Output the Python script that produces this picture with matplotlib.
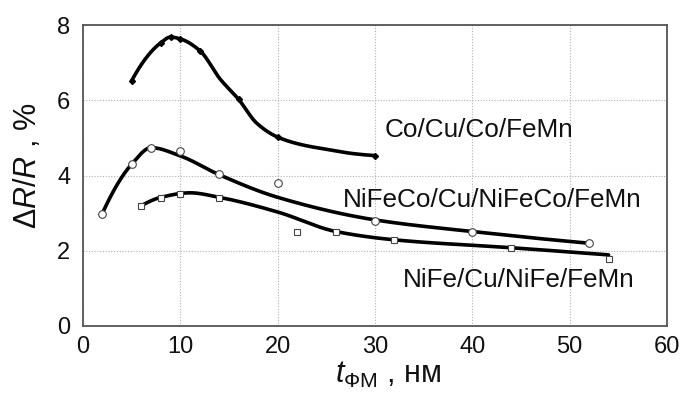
import numpy as np
import matplotlib
matplotlib.use("Agg")
import matplotlib.pyplot as plt

plt.rcParams['font.family'] = ['Liberation Sans', 'DejaVu Sans']
plt.rcParams['mathtext.fontset'] = 'custom'
plt.rcParams['mathtext.rm'] = 'Liberation Sans'
plt.rcParams['mathtext.it'] = 'Liberation Sans:italic'
plt.rcParams['mathtext.bf'] = 'Liberation Sans:bold'

# ---- measured points ----
co_t = [5, 8, 9, 10, 12, 16, 20, 30]
co_r = [6.52, 7.53, 7.68, 7.63, 7.32, 6.03, 5.03, 4.53]

nifeco_t = [2, 5, 7, 10, 14, 20, 30, 40, 52]
nifeco_r = [2.98, 4.31, 4.72, 4.64, 4.03, 3.81, 2.80, 2.51, 2.20]

nife_t = [6, 8, 10, 14, 22, 26, 32, 44, 54]
nife_r = [3.19, 3.41, 3.50, 3.41, 2.49, 2.49, 2.29, 2.08, 1.78]

# ---- trend curves as drawn in the figure ----
co_fit_t = [5, 8, 9, 10, 12, 14.1, 16, 17.85, 20, 22.6, 25.4, 27.8, 30]
co_fit_r = [6.52, 7.53, 7.68, 7.63, 7.32, 6.56, 6.02, 5.39, 5.02, 4.81, 4.68, 4.58, 4.53]
nifeco_fit_t = [2, 5, 7, 10, 14, 20, 30, 40, 52]
nifeco_fit_r = [3.0, 4.3, 4.74, 4.52, 4.02, 3.42, 2.82, 2.51, 2.2]
nife_fit_t = [6, 8, 11, 14, 20, 26, 32, 44, 54]
nife_fit_r = [3.2, 3.42, 3.54, 3.42, 3.03, 2.51, 2.29, 2.08, 1.89]

labels = ["Co/Cu/Co/FeMn", "NiFeCo/Cu/NiFeCo/FeMn", "NiFe/Cu/NiFe/FeMn"]
label_pos = [(31.0, 5.02), (26.7, 3.17), (32.85, 1.03)]

x_ticks = [0, 10, 20, 30, 40, 50, 60]
y_ticks = [0, 2, 4, 6, 8]


def pchip(x, y, n=400):
    x = np.asarray(x, float)
    y = np.asarray(y, float)
    h = np.diff(x)
    d = np.diff(y) / h
    m = np.zeros_like(y)
    for i in range(1, len(x) - 1):
        if d[i - 1] * d[i] > 0:
            w1 = 2 * h[i] + h[i - 1]
            w2 = h[i] + 2 * h[i - 1]
            m[i] = (w1 + w2) / (w1 / d[i - 1] + w2 / d[i])
        else:
            m[i] = 0.0
    m[0] = ((2 * h[0] + h[1]) * d[0] - h[0] * d[1]) / (h[0] + h[1])
    if np.sign(m[0]) != np.sign(d[0]):
        m[0] = 0
    m[-1] = ((2 * h[-1] + h[-2]) * d[-1] - h[-1] * d[-2]) / (h[-1] + h[-2])
    if np.sign(m[-1]) != np.sign(d[-1]):
        m[-1] = 0
    xs = np.linspace(x[0], x[-1], n)
    idx = np.clip(np.searchsorted(x, xs, side='right') - 1, 0, len(x) - 2)
    hh = h[idx]
    t = (xs - x[idx]) / hh
    h00 = 2 * t ** 3 - 3 * t ** 2 + 1
    h10 = t ** 3 - 2 * t ** 2 + t
    h01 = -2 * t ** 3 + 3 * t ** 2
    h11 = t ** 3 - t ** 2
    ys = h00 * y[idx] + h10 * hh * m[idx] + h01 * y[idx + 1] + h11 * hh * m[idx + 1]
    return xs, ys


fig = plt.figure(figsize=(6.84, 3.94), dpi=100)
ax = fig.add_axes([83 / 684, 1 - 326 / 394, (667 - 83) / 684, (326 - 25) / 394])

for ft, fr in [(co_fit_t, co_fit_r), (nifeco_fit_t, nifeco_fit_r), (nife_fit_t, nife_fit_r)]:
    xs, ys = pchip(ft, fr)
    ax.plot(xs, ys, color='black', lw=2.6, solid_capstyle='round', zorder=3)

ax.plot(co_t, co_r, ls='none', marker='D', ms=3, mfc='black', mec='black', zorder=4)
ax.plot(nifeco_t, nifeco_r, ls='none', marker='o', ms=5.5, mfc='white', mec='#444444',
        mew=0.8, zorder=4)
ax.plot(nife_t, nife_r, ls='none', marker='s', ms=5, mfc='white', mec='#444444',
        mew=0.8, zorder=4)

for lab, (lx, ly) in zip(labels, label_pos):
    ax.text(lx, ly, lab, fontsize=18.8, ha='left', va='baseline', color='#111111')

ax.set_xlim(0, 60)
ax.set_ylim(0, 8)
ax.set_xticks(x_ticks)
ax.set_yticks(y_ticks)
ax.tick_params(length=0, labelsize=17, colors='#111111')
ax.tick_params(axis='x', pad=7)
ax.tick_params(axis='y', pad=9)
ax.grid(True, ls=(0, (1, 1.5)), color='#b0b0b0', lw=0.8)
for s in ax.spines.values():
    s.set_color('#555555')
    s.set_linewidth(1.3)

fig.text(388 / 684, 1 - 383 / 394, r'$t_{\mathrm{ФМ}}$ , нм', fontsize=22, ha='center',
         va='baseline', color='#111111')
fig.text(28 / 684, 1 - 166 / 394, r'$\mathit{\Delta R/R}$ , %', fontsize=22, rotation=90,
         ha='center', va='center', color='#111111')

fig.savefig('out.png', dpi=100)
